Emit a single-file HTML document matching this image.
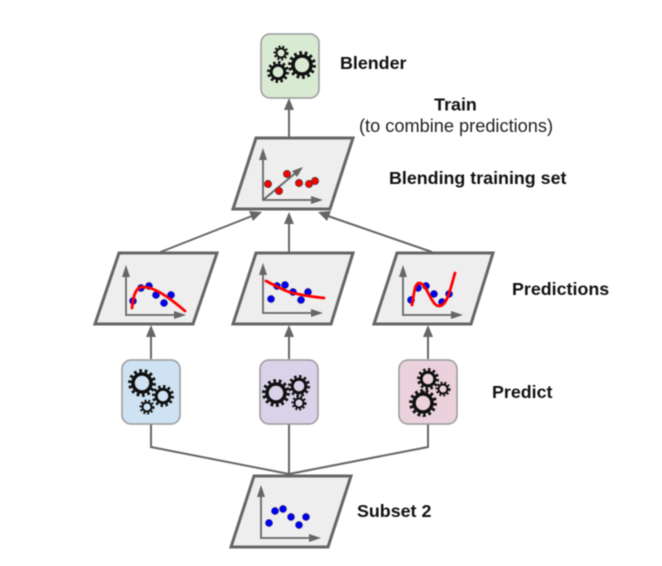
<!DOCTYPE html>
<html><head><meta charset="utf-8"><style>
html,body{margin:0;padding:0;background:#fff;width:662px;height:566px;overflow:hidden}
svg{display:block;filter:blur(.6px)}
text{font-family:"Liberation Sans",sans-serif;fill:#111}
.b{font-weight:bold;font-size:17.85px}
.r{font-size:18.2px;fill:#222}
.p{fill:#eeeeee;stroke:#666;stroke-width:3;stroke-linejoin:miter}
.l{stroke:#666;stroke-width:2;fill:none}
.a{stroke:#666;stroke-width:1.8;fill:none}
.h{fill:#666}
.box{stroke:#999;stroke-width:1.5}
.red{fill:#f00;stroke:#333;stroke-width:.7}
.blu{fill:#00e;stroke:#333;stroke-width:.4}
.c{stroke:#f00;stroke-width:2.8;fill:none;stroke-linecap:round}
.g{fill:none;stroke:#111}
</style></head><body>
<svg width="662" height="566" viewBox="0 0 662 566" xmlns="http://www.w3.org/2000/svg">
<!-- connectors -->
<path class="l" d="M289 137V106M289 253V222M158 253L252 216M432 252L328 216M151 359V335M289 359V335M428 359V335M289 476V424M151 424V447L289 474M428 424V447L289 474"/>
<path class="h" d="M289 98l-5 12h10zM289 212l-5 12h10zM262 212l-13 -1 4 10zM318 212l13 -1 -4 10zM151 325l-5 12h10zM289 325l-5 12h10zM428 325l-5 12h10z"/>

<!-- boxes -->
<rect class="box" x="261" y="34" width="58" height="64" rx="9" fill="#d9ead3"/>
<rect class="box" x="122" y="360" width="58" height="64" rx="9" fill="#cfe2f3"/>
<rect class="box" x="260" y="360" width="58" height="64" rx="9" fill="#d9d2e9"/>
<rect class="box" x="399" y="360" width="58" height="64" rx="9" fill="#ead1dc"/>

<!-- gears: blender -->
<g class="g">
<circle cx="281" cy="53" r="4.5" stroke-width="2"/><circle cx="281" cy="53" r="6.4" stroke-width="2.2" stroke-dasharray="1 1" pathLength="20"/>
<circle cx="278" cy="72" r="6.8" stroke-width="3"/><circle cx="278" cy="72" r="9.5" stroke-width="3" stroke-dasharray="1 1" pathLength="24"/>
<circle cx="302" cy="65" r="9" stroke-width="3.6"/><circle cx="302" cy="65" r="12.2" stroke-width="3.4" stroke-dasharray="1 1" pathLength="28"/>
</g>
<!-- gears: blue -->
<g class="g">
<circle cx="142" cy="383" r="9" stroke-width="3.6"/><circle cx="142" cy="383" r="12.2" stroke-width="3.4" stroke-dasharray="1 1" pathLength="28"/>
<circle cx="163" cy="396" r="6.8" stroke-width="3"/><circle cx="163" cy="396" r="9.5" stroke-width="3" stroke-dasharray="1 1" pathLength="24"/>
<circle cx="147" cy="407" r="4.5" stroke-width="2"/><circle cx="147" cy="407" r="6.4" stroke-width="2.2" stroke-dasharray="1 1" pathLength="20"/>
</g>
<!-- gears: purple -->
<g class="g">
<circle cx="276" cy="393" r="9" stroke-width="3.6"/><circle cx="276" cy="393" r="12.2" stroke-width="3.4" stroke-dasharray="1 1" pathLength="28"/>
<circle cx="299" cy="386" r="6.8" stroke-width="3"/><circle cx="299" cy="386" r="9.5" stroke-width="3" stroke-dasharray="1 1" pathLength="24"/>
<circle cx="299" cy="403" r="4.5" stroke-width="2"/><circle cx="299" cy="403" r="6.4" stroke-width="2.2" stroke-dasharray="1 1" pathLength="20"/>
</g>
<!-- gears: pink -->
<g class="g">
<circle cx="428" cy="379" r="6.8" stroke-width="3"/><circle cx="428" cy="379" r="9.5" stroke-width="3" stroke-dasharray="1 1" pathLength="24"/>
<circle cx="443" cy="389" r="4.5" stroke-width="2"/><circle cx="443" cy="389" r="6.4" stroke-width="2.2" stroke-dasharray="1 1" pathLength="20"/>
<circle cx="423" cy="403" r="9" stroke-width="3.6"/><circle cx="423" cy="403" r="12.2" stroke-width="3.4" stroke-dasharray="1 1" pathLength="28"/>
</g>

<!-- parallelograms -->
<polygon class="p" points="256,138 353,138 330,209 233,209"/>
<polygon class="p" points="119,253 217,253 193,324 95,324"/>
<polygon class="p" points="256,253 353,253 331,324 233,324"/>
<polygon class="p" points="397,253 493,253 471,324 374,324"/>
<polygon class="p" points="254,476 351,476 328,547 231,547"/>

<!-- blending chart -->
<path class="a" d="M263 155V200H316M263 200L298 171"/>
<path class="h" d="M263 148l-4 12h8zM323 200l-12 -4v8zM303 167l-11 4 5 6z"/>
<circle class="red" cx="268" cy="184" r="3.6"/><circle class="red" cx="279" cy="191" r="3.6"/><circle class="red" cx="287" cy="174" r="3.6"/><circle class="red" cx="299" cy="183" r="3.6"/><circle class="red" cx="309" cy="184" r="3.6"/><circle class="red" cx="315" cy="181" r="3.6"/>

<!-- pred 1 -->
<path class="a" d="M126 272V315H179"/>
<path class="h" d="M126 265l-4 12h8zM186 315l-12 -4v8z"/>
<g class="blu"><circle cx="133" cy="301" r="3.6"/><circle cx="141" cy="288" r="3.6"/><circle cx="149" cy="286" r="3.6"/><circle cx="156" cy="295" r="3.6"/><circle cx="164" cy="303" r="3.6"/><circle cx="171" cy="295" r="3.6"/></g>
<path class="c" d="M132 308C133 298 135 286 144 287C154 287 170 298 185 311"/>

<!-- pred 2 -->
<path class="a" d="M263 270V313H316"/>
<path class="h" d="M263 263l-4 12h8zM323 313l-12 -4v8z"/>
<g class="blu"><circle cx="271" cy="299" r="3.6"/><circle cx="277" cy="286" r="3.6"/><circle cx="285" cy="285" r="3.6"/><circle cx="293" cy="292" r="3.6"/><circle cx="301" cy="300" r="3.6"/><circle cx="308" cy="292" r="3.6"/></g>
<path class="c" d="M266 281C280 288 288 293 298 294C306 296 315 297 324 298"/>

<!-- pred 3 -->
<path class="a" d="M403 272V315H456"/>
<path class="h" d="M403 265l-4 12h8zM463 315l-12 -4v8z"/>
<g class="blu"><circle cx="411" cy="300" r="3.6"/><circle cx="418" cy="288" r="3.6"/><circle cx="426" cy="286" r="3.6"/><circle cx="434" cy="294" r="3.6"/><circle cx="442" cy="302" r="3.6"/><circle cx="449" cy="294" r="3.6"/></g>
<path class="c" d="M412 305C414 293 415 283 419 283C427 283 431 306 439 306C447 306 450 290 455 273"/>

<!-- subset -->
<path class="a" d="M261 492V538H314"/>
<path class="h" d="M261 485l-4 12h8zM321 538l-12 -4v8z"/>
<g class="blu"><circle cx="269" cy="523" r="3.6"/><circle cx="275" cy="511" r="3.6"/><circle cx="283" cy="509" r="3.6"/><circle cx="291" cy="517" r="3.6"/><circle cx="299" cy="525" r="3.6"/><circle cx="306" cy="517" r="3.6"/></g>

<!-- labels -->
<text class="b" x="340" y="69">Blender</text>
<text class="b" x="455.500" y="110.500" text-anchor="middle">Train</text>
<text class="r" x="456" y="132" text-anchor="middle">(to combine predictions)</text>
<text class="b" x="389" y="184">Blending training set</text>
<text class="b" x="512" y="295">Predictions</text>
<text class="b" x="492" y="398">Predict</text>
<text class="b" x="357" y="517">Subset 2</text>
</svg>
</body></html>
